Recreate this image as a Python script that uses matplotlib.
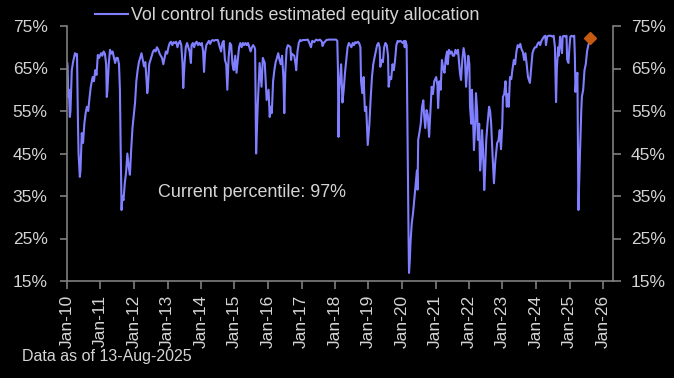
import matplotlib
matplotlib.use("Agg")
import matplotlib.pyplot as plt
import pandas as pd
import numpy as np

plt.rcParams['font.family'] = ['Liberation Sans', 'DejaVu Sans']

# ---- data ----
d2010 = ["01-04","01-08","01-15","01-22","02-01","02-08","02-22","03-08","03-29","04-12","04-20","04-30","05-07","05-21","05-28","06-11","06-25","07-09","07-23","08-06","08-20","09-03","09-17","10-08","10-22","11-05","11-19","12-03","12-17"]
v2010 = [66.3,65.5,58.3,60.0,53.6,55.0,64.6,66.5,68.6,68.0,68.4,52.9,45.0,39.5,41.0,49.8,47.5,52.0,54.5,56.0,55.0,58.0,60.7,63.0,62.0,64.6,63.5,68.2,67.5]

d2011 = ["01-07","01-21","02-04","02-18","03-04","03-11","03-18","04-01","04-15","04-29","05-13","05-27","06-10","06-24","07-08","07-22","08-01","08-08","08-19","08-26","09-09","09-23","10-07","10-21","11-04","11-18","12-02","12-16"]
v2011 = [68.6,68.0,69.0,68.5,66.0,58.3,60.0,66.0,69.4,68.5,69.0,67.7,66.3,67.5,67.5,66.0,60.0,48.2,31.7,35.0,34.0,38.0,40.5,45.0,42.0,40.0,46.0,51.0]

d2012 = ["01-13","01-27","02-10","02-24","03-09","03-23","04-06","04-20","05-04","05-18","05-25","06-01","06-15","06-29","07-13","07-27","08-10","08-24","09-07","09-21","10-05","10-19","11-02","11-16","11-30","12-14","12-28"]
v2012 = [57.0,62.0,64.6,66.5,67.5,68.6,67.0,65.5,66.5,62.0,59.2,60.5,66.0,67.0,68.0,69.0,69.4,69.0,70.0,69.5,68.6,68.0,67.5,66.0,67.5,69.0,68.5]

d2013 = ["01-11","01-25","02-08","02-22","03-08","03-22","04-05","04-19","05-03","05-17","05-31","06-14","06-21","07-05","07-19","08-02","08-16","08-30","09-13","09-20","10-04","10-18","11-01","11-15","11-29","12-13","12-27"]
v2013 = [70.0,71.0,71.3,70.5,71.2,71.0,71.3,70.0,71.0,71.5,70.5,66.0,60.4,66.0,70.0,71.0,70.0,69.0,66.3,70.5,71.0,70.0,71.0,71.3,70.5,71.0,70.5]

d2014 = ["01-10","01-24","02-03","02-14","02-28","03-14","03-28","04-11","04-25","05-09","05-23","06-06","06-20","07-04","07-25","08-08","08-22","09-05","09-19","10-03","10-15","10-29","11-12","11-26","12-10","12-24"]
v2014 = [71.0,69.0,64.2,68.5,70.5,71.0,71.5,70.8,71.5,71.7,71.5,71.7,71.7,71.7,70.0,69.0,71.0,71.5,67.0,66.0,60.0,67.5,71.0,70.5,66.0,64.6]

d2015 = ["01-09","01-23","02-06","02-20","03-06","03-20","04-03","04-17","05-01","05-15","05-29","06-12","06-26","07-10","07-24","08-07","08-14","08-21","08-25","09-11","10-02","10-23","11-06","11-27","12-18"]
v2015 = [68.0,64.0,67.0,70.0,71.0,70.0,71.0,70.5,71.0,70.5,71.0,70.0,69.0,70.0,70.5,70.0,69.5,53.6,45.0,56.0,66.3,60.7,67.5,66.3,57.6]

d2016 = ["01-08","01-20","02-05","02-12","02-26","03-11","03-25","04-08","04-22","05-06","05-20","06-03","06-17","06-27","07-08","07-22","08-05","08-19","09-02","09-09","09-16","10-14","10-28","11-04","11-18","12-02","12-16","12-30"]
v2016 = [60.0,53.6,56.0,54.5,62.0,64.6,66.5,67.5,68.6,67.0,66.0,68.0,63.0,54.5,64.0,69.5,70.5,70.3,70.0,67.0,68.5,68.0,66.0,64.6,69.0,71.0,71.7,71.5]

d2017 = ["01-13","02-10","03-10","03-24","04-14","04-28","05-19","06-09","06-30","07-21","08-11","08-18","09-01","09-29","10-27","11-24","12-22"]
v2017 = [71.7,71.7,71.8,71.2,70.0,71.5,71.2,71.8,71.6,71.8,71.3,70.3,71.0,71.7,71.8,71.8,71.8]

d2018 = ["01-12","01-26","02-02","02-08","02-16","02-23","03-09","03-23","04-06","04-20","05-04","05-18","06-01","06-15","06-29","07-13","07-27","08-10","08-24","09-07","09-21","10-05","10-12","10-26","11-09","11-23","12-07","12-24"]
v2018 = [71.8,71.5,65.0,48.9,60.0,62.0,66.0,57.0,60.0,64.0,67.0,70.0,71.0,70.5,70.0,71.0,70.5,71.2,71.0,71.3,71.0,70.0,62.0,59.2,63.0,55.0,56.0,47.0]

d2019 = ["01-11","01-25","02-08","02-22","03-08","03-22","04-05","04-19","05-03","05-10","05-24","06-07","06-21","07-05","07-19","08-02","08-09","08-23","09-06","09-20","10-04","10-18","11-01","11-15","11-29","12-13","12-27"]
v2019 = [52.0,58.0,63.0,66.0,67.6,69.0,70.5,71.0,70.0,65.4,67.0,66.5,70.0,71.0,70.5,68.0,60.7,63.0,62.5,66.0,64.6,67.0,70.5,71.5,71.3,71.5,71.3]

d2020 = ["01-10","01-24","01-31","02-07","02-21","02-28","03-06","03-13","03-18","03-27","04-03","04-17","05-01","05-22","06-12","06-19","06-26","07-10","07-24","08-07","08-21","08-28","09-11","09-25","10-09","10-23","11-06","11-20","12-04","12-18"]
v2020 = [71.0,71.5,70.0,71.5,70.5,55.0,40.0,25.0,16.9,20.0,24.0,28.6,31.0,36.0,41.0,36.5,48.2,50.0,52.0,56.0,57.5,54.5,51.0,55.2,54.0,48.9,55.0,60.7,59.0,62.0]

d2021 = ["01-08","01-22","01-29","02-12","02-26","03-12","03-26","04-09","04-23","05-07","05-14","05-28","06-11","06-25","07-09","07-23","08-06","08-20","09-03","09-24","10-06","10-20","11-03","11-17","11-30","12-10","12-24"]
v2021 = [63.0,61.0,55.7,62.0,60.0,67.0,65.0,64.0,67.5,69.0,66.0,69.4,68.5,69.0,68.0,68.0,69.4,68.5,69.4,64.0,62.3,67.0,69.8,68.0,60.7,64.0,68.0]

d2022 = ["01-05","01-12","01-26","02-02","02-16","02-24","03-10","03-18","03-31","04-08","04-22","05-02","05-13","05-23","06-03","06-16","06-24","07-08","07-22","08-08","08-19","08-30","09-16","09-30","10-14","11-04","11-18","12-02","12-16","12-30"]
v2022 = [66.0,56.0,52.0,60.0,52.0,45.8,52.0,59.2,55.0,48.2,52.0,41.0,44.0,50.5,46.0,36.4,40.0,48.2,52.0,56.0,55.0,52.2,44.0,38.0,43.0,47.5,48.0,50.5,46.0,52.0]

d2023 = ["01-06","01-20","02-03","02-17","03-03","03-10","03-24","04-07","04-21","05-05","05-19","06-02","06-16","06-30","07-14","07-28","08-11","08-25","09-08","09-22","10-06","10-27","11-10","11-24","12-08","12-22"]
v2023 = [58.3,59.0,62.0,56.0,59.0,56.0,63.0,62.5,65.0,67.0,66.0,69.0,70.5,70.0,70.8,69.5,68.9,67.0,68.6,66.0,63.0,61.6,65.0,68.6,69.5,70.0]

d2024 = ["01-05","01-19","02-02","02-16","03-01","03-15","03-29","04-12","04-19","05-03","05-17","05-31","06-14","06-28","07-12","07-26","08-07","08-16","08-30","09-06","09-20","10-11","10-18","11-01","11-15","11-29","12-06","12-20","12-31"]
v2024 = [70.0,70.8,71.2,70.5,71.5,72.0,72.5,72.7,70.5,72.5,72.7,72.7,72.7,72.5,72.7,70.0,57.1,65.0,70.0,68.0,72.5,68.6,72.5,72.7,72.5,72.7,67.1,66.3,70.0]

d2025 = ["01-10","01-24","02-07","02-21","02-28","03-07","03-14","03-28","04-04","04-08","04-18","04-25","05-09","05-16","05-30","06-13","06-27","07-11","07-25","08-08","08-13"]
v2025 = [72.5,72.7,72.5,72.7,68.0,59.5,62.0,64.0,45.0,31.7,40.0,45.0,55.0,58.4,60.0,64.6,66.0,69.0,70.5,71.5,71.8]

current_date = "2025-08-13"
current_value = 72.2

years = list(range(2010, 2026))
date_parts = [d2010, d2011, d2012, d2013, d2014, d2015, d2016, d2017,
              d2018, d2019, d2020, d2021, d2022, d2023, d2024, d2025]
value_parts = [v2010, v2011, v2012, v2013, v2014, v2015, v2016, v2017,
               v2018, v2019, v2020, v2021, v2022, v2023, v2024, v2025]

tick_years = list(range(2010, 2027))
tick_labels = [f"Jan-{y % 100:02d}" for y in tick_years]
y_ticks = [15, 25, 35, 45, 55, 65, 75]

series_label = "Vol control funds estimated equity allocation"
note_text = "Current percentile: 97%"
footer_text = "Data as of 13-Aug-2025"

# ---- assemble ----
dates, values = [], []
for y, ds, vs in zip(years, date_parts, value_parts):
    dates += [pd.Timestamp(f"{y}-{d}") for d in ds]
    values += vs

# ---- style ----
BG = "black"
TXT = "#D4D4D4"
SPINE = "#7F7F7F"
LINE = "#7F7FFF"
MARK = "#C55A11"
FS = 12.5

fig = plt.figure(figsize=(6.74, 3.78), dpi=100, facecolor=BG)
W, H = 674, 378
ax = fig.add_axes([67 / W, 1 - 281 / H, (613 - 67) / W, (281 - 26) / H])
ax.set_facecolor(BG)

line, = ax.plot(dates, values, color=LINE, lw=1.5, solid_joinstyle='round')
ax.plot([pd.Timestamp(current_date)], [current_value], marker='D', ms=6,
        color=MARK, linestyle='none', zorder=5)

ax.set_ylim(15, 75)
ax.set_xlim(pd.Timestamp("2010-01-01"), pd.Timestamp("2026-04-20"))

ax.set_xticks([pd.Timestamp(f"{y}-01-01") for y in tick_years])
ax.set_xticklabels(tick_labels, rotation=90, fontsize=FS, color=TXT)
ax.set_yticks(y_ticks)
ax.set_yticklabels([f"{v}%" for v in y_ticks], fontsize=FS, color=TXT)

ax2 = ax.twinx()
ax2.set_ylim(15, 75)
ax2.set_yticks(y_ticks)
ax2.set_yticklabels([f"{v}%" for v in y_ticks], fontsize=FS, color=TXT)

for a in (ax, ax2):
    for s in a.spines.values():
        s.set_color(SPINE)
        s.set_linewidth(1.2)
    a.spines['top'].set_visible(False)
ax.spines['right'].set_visible(False)
ax2.spines['left'].set_visible(False)
ax2.spines['bottom'].set_visible(False)

ax.tick_params(axis='x', colors=SPINE, labelcolor=TXT, length=6, width=1.2, pad=4)
ax.tick_params(axis='y', colors=SPINE, labelcolor=TXT, length=5, width=1.2, pad=9)
ax2.tick_params(axis='y', colors=SPINE, labelcolor=TXT, length=6, width=1.2, pad=7)

ax.text(pd.Timestamp("2012-09-20"), 35.8, note_text, color=TXT, fontsize=12.9,
        va='center', ha='left')

fig.legend(handles=[line], labels=[series_label], loc='center left',
           bbox_to_anchor=(95 / W, 1 - 16 / H), frameon=False, fontsize=12.9,
           handlelength=1.85, handletextpad=0.15, borderpad=0, borderaxespad=0,
           labelcolor=TXT)

fig.text(22 / W, 1 - 357 / H, footer_text, color=TXT, fontsize=11.5,
         va='center', ha='left')

fig.savefig("out.png", dpi=100, facecolor=BG)
